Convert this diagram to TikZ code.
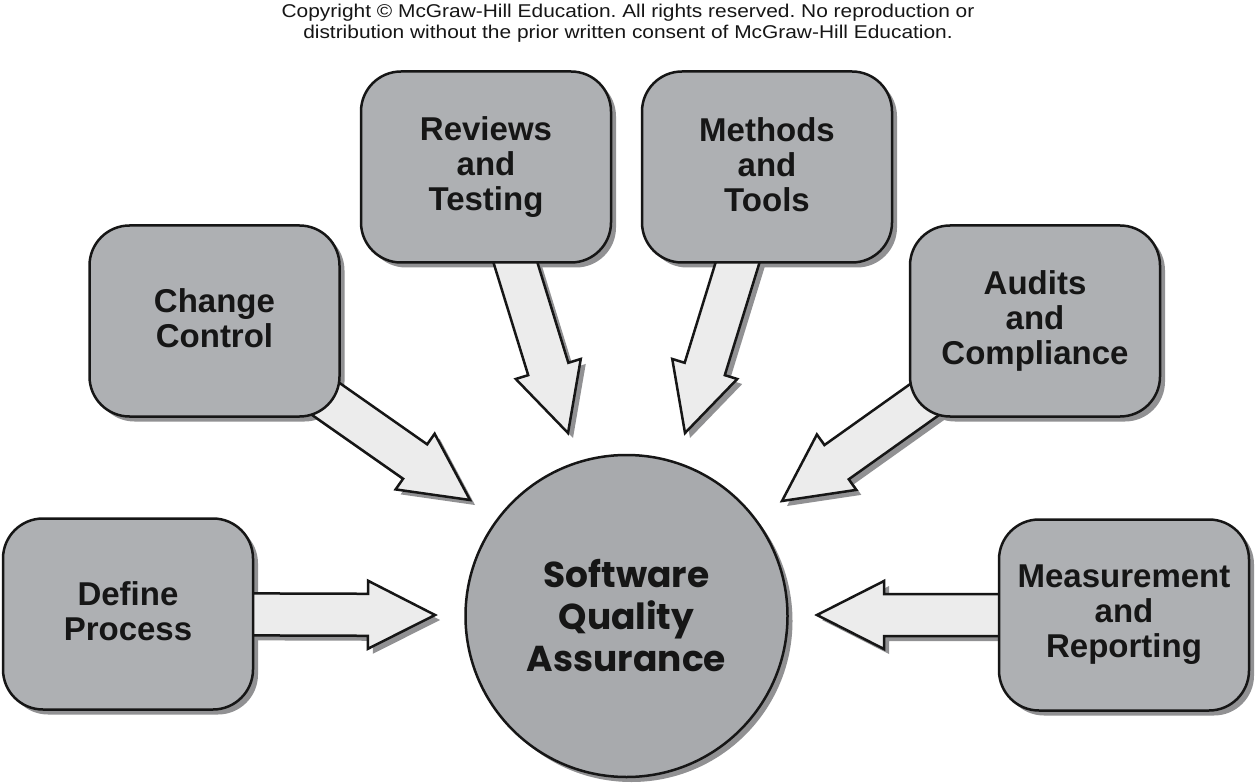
\documentclass[tikz,border=0pt]{standalone}
\usepackage{fontspec}
\setmainfont{Liberation Sans}
\newfontfamily\circfont{Poppins}
\newfontfamily\notefont{Liberation Sans}[FakeStretch=1.13]
\usetikzlibrary{calc}
\definecolor{boxgray}{RGB}{174,176,179}
\definecolor{circgray}{RGB}{168,170,173}
\definecolor{arrowfill}{RGB}{236,236,236}
\definecolor{shadowc}{RGB}{145,145,147}
\definecolor{inkc}{RGB}{22,22,22}
\pgfdeclarelayer{shadowlayer}
\pgfdeclarelayer{arrowlayer}
\pgfsetlayers{shadowlayer,arrowlayer,main}
\tikzset{
  topicbox/.style={draw=inkc, line width=2.5pt, fill=boxgray, rounded corners=40pt,
    minimum width=250pt, minimum height=191pt, outer sep=0pt, align=center,
    text=inkc, font=\bfseries\fontsize{33}{35}\selectfont,
    execute at begin node={\rule{0pt}{24.5pt}},
    execute at end node={\rule[-5pt]{0pt}{5pt}}},
  hubcircle/.style={circle, draw=inkc, line width=2.5pt, fill=circgray,
    minimum size=322pt, outer sep=0pt, align=center, text=inkc,
    font=\circfont\bfseries\fontsize{36}{42}\selectfont},
  fatarr/.style={draw=inkc, line width=2.5pt, fill=arrowfill, line join=miter},
  boxshadow/.style={fill=shadowc, rounded corners=40pt},
  note/.style={align=center, font=\notefont\fontsize{18.5}{21.5}\selectfont, text=inkc}
}
\newcommand\fatarrow[2]{%
  \coordinate (fb) at ($(#2)!67pt!(#1)$);
  \coordinate (p1) at ($(#1)!21pt!90:(#2)$);
  \coordinate (p2) at ($(fb)!21pt!90:(#2)$);
  \coordinate (p3) at ($(fb)!34pt!90:(#2)$);
  \coordinate (p5) at ($(fb)!34pt!-90:(#2)$);
  \coordinate (p6) at ($(fb)!21pt!-90:(#2)$);
  \coordinate (p7) at ($(#1)!21pt!-90:(#2)$);
  \fill[shadowc] ($(p1)+(5,5)$) -- ($(p2)+(5,5)$) -- ($(p3)+(5,5)$) -- ($(#2)+(5,5)$)
    -- ($(p5)+(5,5)$) -- ($(p6)+(5,5)$) -- ($(p7)+(5,5)$) -- cycle;
  \draw[fatarr] (p1) -- (p2) -- (p3) -- (#2) -- (p5) -- (p6) -- (p7) -- cycle;
}
\frenchspacing
\begin{document}
\begin{tikzpicture}[x=1pt,y=-1pt]
\useasboundingbox (0,0) rectangle (1257,783);

\node[note] (copy) at (628,23) {Copyright \textcopyright{} McGraw-Hill Education. All rights reserved. No reproduction or\\distribution without the prior written consent of McGraw-Hill Education.};

\node[topicbox] (dp) at (128,614) {Define\\Process};
\node[topicbox] (cc) at (214.5,321) {Change\\Control};
\node[topicbox] (rt) at (486,167) {Reviews\\and\\Testing};
\node[topicbox] (mt) at (767,167) {Methods\\and\\Tools};
\node[topicbox] (ac) at (1035,321) {Audits\\and\\Compliance};
\node[topicbox] (mr) at (1124,615) {Measurement\\and\\Reporting};
\node[hubcircle] (sqa) at (626.5,616) {Software\\Quality\\Assurance};

\coordinate (tdp) at (435,615);
\coordinate (tcc) at (470,500);
\coordinate (trt) at (568,433);
\coordinate (tmt) at (685,433);
\coordinate (tac) at (782,501);
\coordinate (tmr) at (817,615);

\begin{pgfonlayer}{shadowlayer}
  \fill[white] (0,0) rectangle (1257,783);
  \foreach \b in {dp,cc,rt,mt,ac,mr}{
    \fill[boxshadow] ($(\b.south west)+(5,5)$) rectangle ($(\b.north east)+(5,5)$);
  }
  \fill[shadowc] ($(sqa.center)+(5,5)$) circle[radius=161];
\end{pgfonlayer}

\begin{pgfonlayer}{arrowlayer}
  \fatarrow{dp.center}{tdp}
  \fatarrow{cc.center}{tcc}
  \fatarrow{rt.center}{trt}
  \fatarrow{mt.center}{tmt}
  \fatarrow{ac.center}{tac}
  \fatarrow{mr.center}{tmr}
\end{pgfonlayer}
\end{tikzpicture}
\end{document}
